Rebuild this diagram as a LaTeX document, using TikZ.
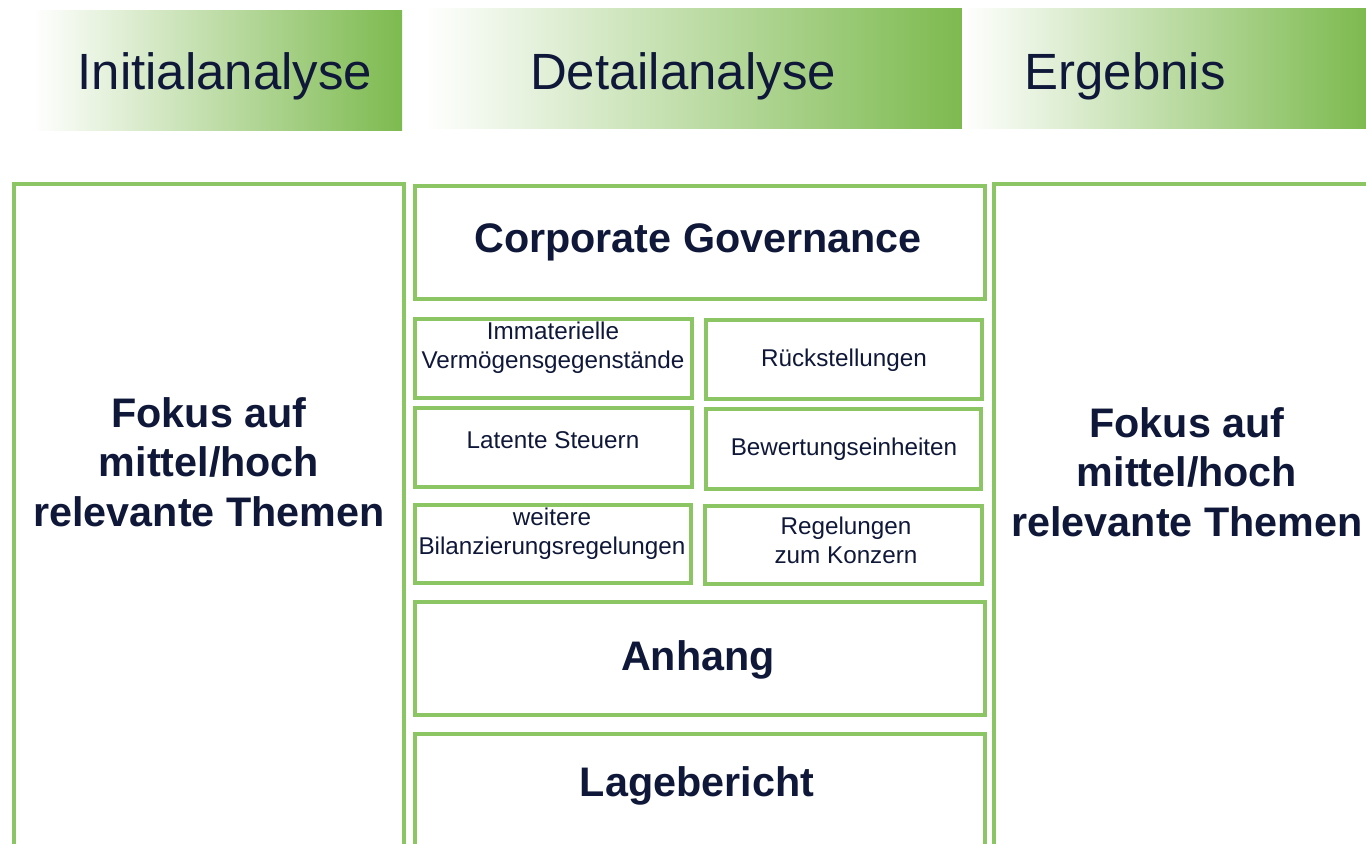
\documentclass[tikz,border=0pt]{standalone}
\usepackage{fontspec}
\setmainfont{Liberation Sans}
\definecolor{balken}{HTML}{7DBA4F}
\definecolor{rahmen}{HTML}{8CC564}
\definecolor{schrift}{HTML}{0F1838}

\begin{document}
\begin{tikzpicture}[x=0.02cm, y=-0.02cm,
    box/.style={draw=rahmen, line width=2.2pt},
    kopf/.style={font=\fontsize{29}{34}\selectfont, text=schrift, anchor=base},
    fett/.style={font=\fontsize{23.5}{28.3}\selectfont\bfseries, text=schrift, align=center},
    klein/.style={font=\fontsize{13.8}{16.4}\selectfont, text=schrift, align=center}]
      \path[use as bounding box, clip] (0,0) rectangle (1366,843);

      % Kopfzeile
      \shade[left color=white, right color=balken] (33,10) rectangle (402,130);
      \shade[left color=white, right color=balken] (425,8) rectangle (962,128);
      \shade[left color=white, right color=balken] (962,8) rectangle (1366,128);
      \node[kopf] (initial) at (225,89){Initialanalyse};
      \node[kopf] (detail) at (683,89){Detailanalyse};
      \node[kopf] (ergebnis) at (1125,89){Ergebnis};

      % Spalten links und rechts
      \draw[box] (14,184) rectangle (404,880);
      \draw[box] (994,184) rectangle (1400,880);
      \node[fett] (fokusl) at (209,462){Fokus auf\\mittel/hoch\\relevante Themen};
      \node[fett] (fokusr) at (1187,472){Fokus auf\\mittel/hoch\\relevante Themen};

      % Mitte
      \draw[box] (415,186) rectangle (985,299);
        \node[fett, anchor=base] (cg) at (698,252){Corporate Governance};

      \draw[box] (415,319) rectangle (692,398);
        \node[klein] (immat) at (553,348){Immaterielle\\Vermögensgegenstände};
      \draw[box] (706,320) rectangle (982,399);
        \node[klein, anchor=base] (rueck) at (844,366){Rückstellungen};

      \draw[box] (415,408) rectangle (692,487);
        \node[klein, anchor=base] (latent) at (553,448){Latente Steuern};
      \draw[box] (706,409) rectangle (981,489);
        \node[klein, anchor=base] (bewert) at (844,455){Bewertungseinheiten};

      \draw[box] (415,505) rectangle (691,583);
        \node[klein] (weitere) at (552,534){weitere\\Bilanzierungsregelungen};
      \draw[box] (705,506) rectangle (982,584);
        \node[klein] (konzern) at (846,540){Regelungen\\zum Konzern};

      \draw[box] (415,602) rectangle (985,715);
        \node[fett, anchor=base] (anhang) at (698,670){Anhang};
      \draw[box] (415,734) rectangle (985,880);
        \node[fett, anchor=base] (lage) at (697,796){Lagebericht};

    \end{tikzpicture}
\end{document}
